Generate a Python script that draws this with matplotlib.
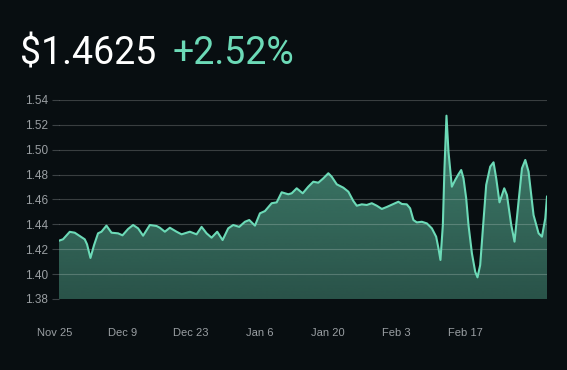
import numpy as np
import matplotlib
matplotlib.use("Agg")
import matplotlib.pyplot as plt

# Days since Nov 25 and price
days = [0.98, 1.80, 3.17, 4.20, 6.24, 6.71, 7.41, 8.15, 8.96, 9.66,
        10.68, 11.71, 13.06, 13.96, 15.10, 16.13, 17.15, 18.17, 19.55, 20.92,
        21.59, 22.62, 23.64, 25.01, 26.03, 27.73, 29.10, 30.13, 31.15, 32.17,
        33.32, 34.42, 35.57, 36.59, 37.82, 38.99, 39.87, 41.04, 42.06, 43.08,
        44.45, 45.48, 46.50, 47.85, 48.55, 49.57, 50.80, 51.94, 52.97, 53.99,
        55.01, 56.04, 56.73, 57.76, 59.11, 60.13, 61.15, 61.85, 62.87, 63.90,
        64.92, 65.94, 66.97, 67.99, 70.36, 71.06, 72.08, 72.76, 73.43, 74.13,
        75.15, 76.18, 77.20, 78.08, 78.55, 78.96, 79.45, 79.78, 80.19, 80.60,
        81.29, 81.97, 82.64, 83.20, 83.67, 84.22, 84.69, 85.39, 86.06, 86.53,
        87.08, 87.64, 88.31, 89.13, 89.81, 90.36, 91.03, 92.00, 92.55, 93.43,
        94.10, 94.92, 95.62, 96.30, 96.97, 97.99, 99.02, 99.71, 100.39, 100.74]
price = [1.4269, 1.4280, 1.4340, 1.4333, 1.4280, 1.4240, 1.4130, 1.4234, 1.4328, 1.4341,
         1.4390, 1.4333, 1.4328, 1.4312, 1.4363, 1.4395, 1.4368, 1.4309, 1.4395, 1.4387,
         1.4373, 1.4341, 1.4373, 1.4341, 1.4320, 1.4341, 1.4320, 1.4380, 1.4328, 1.4293,
         1.4341, 1.4274, 1.4368, 1.4395, 1.4380, 1.4421, 1.4435, 1.4390, 1.4489, 1.4507,
         1.4570, 1.4577, 1.4658, 1.4642, 1.4650, 1.4690, 1.4650, 1.4703, 1.4743, 1.4735,
         1.4770, 1.4811, 1.4783, 1.4722, 1.4695, 1.4663, 1.4588, 1.4550, 1.4561, 1.4556,
         1.4570, 1.4550, 1.4524, 1.4540, 1.4582, 1.4564, 1.4561, 1.4529, 1.4435, 1.4416,
         1.4421, 1.4408, 1.4368, 1.4301, 1.4208, 1.4114, 1.4395, 1.4851, 1.5274, 1.4984,
         1.4703, 1.4757, 1.4803, 1.4837, 1.4770, 1.4610, 1.4395, 1.4167, 1.4020, 1.3974,
         1.4073, 1.4368, 1.4717, 1.4864, 1.4899, 1.4770, 1.4577, 1.4690, 1.4636, 1.4395,
         1.4261, 1.4582, 1.4851, 1.4918, 1.4824, 1.4475, 1.4328, 1.4301, 1.4449, 1.4623]

tick_days = [0, 14, 28, 42, 56, 70, 84]
tick_labels = ["Nov 25", "Dec 9", "Dec 23", "Jan 6", "Jan 20", "Feb 3", "Feb 17"]
y_ticks = [1.38, 1.40, 1.42, 1.44, 1.46, 1.48, 1.50, 1.52, 1.54]

last_price = "$1.4625"
change = "+2.52%"

bg = "#080e11"
mint = "#6cdab7"
grey = "#9a9fa3"

fig = plt.figure(figsize=(5.67, 3.70), dpi=100, facecolor=bg)
ax = fig.add_axes([59 / 567, 1 - 299 / 370, 488 / 567, 199 / 370])
ax.set_facecolor(bg)

x = np.array(days)
y = np.array(price)
ymin, ymax = 1.38, 1.54

# gradient fill under the line
poly = ax.fill_between(x, y, ymin, facecolor="none", edgecolor="none")
rgb = matplotlib.colors.to_rgb(mint)
grad = np.zeros((256, 1, 4))
grad[:, 0, :3] = rgb
grad[:, 0, 3] = np.linspace(0.58, 0.34, 256)
img = ax.imshow(grad, extent=[x[0], x[-1], ymin, ymax], aspect="auto",
                origin="upper", zorder=1, interpolation="bicubic")
img.set_clip_path(poly.get_paths()[0], transform=ax.transData)

ax.plot(x, y, color=mint, lw=1.5, zorder=3, solid_joinstyle="round")

ax.set_xlim(x[0], x[-1])
ax.set_ylim(ymin, ymax)

ax.set_yticks(y_ticks)
ax.set_yticklabels([f"{v:.2f}" for v in y_ticks], family="Liberation Sans",
                   fontsize=8.5, color=grey)
ax.tick_params(axis="y", length=5, width=0.8, color="#3c4245", pad=3)
ax.set_xticks([])
for v in y_ticks[1:]:
    ax.axhline(v, color="white", alpha=0.2, lw=0.8, zorder=2)

for d, lab in zip(tick_days, tick_labels):
    ax.text(d, -0.171, lab, transform=ax.get_xaxis_transform(), ha="center",
            va="center", fontsize=8, color=grey, family="Liberation Sans",
            clip_on=False)

for s in ax.spines.values():
    s.set_visible(False)

fig.text(20 / 567, 1 - 64 / 370, last_price, fontsize=27, color="white",
         family="Roboto", va="baseline", ha="left")
fig.text(173 / 567, 1 - 64 / 370, change, fontsize=27, color=mint,
         family="Roboto", va="baseline", ha="left")

fig.savefig("out.png", dpi=100, facecolor=bg)
